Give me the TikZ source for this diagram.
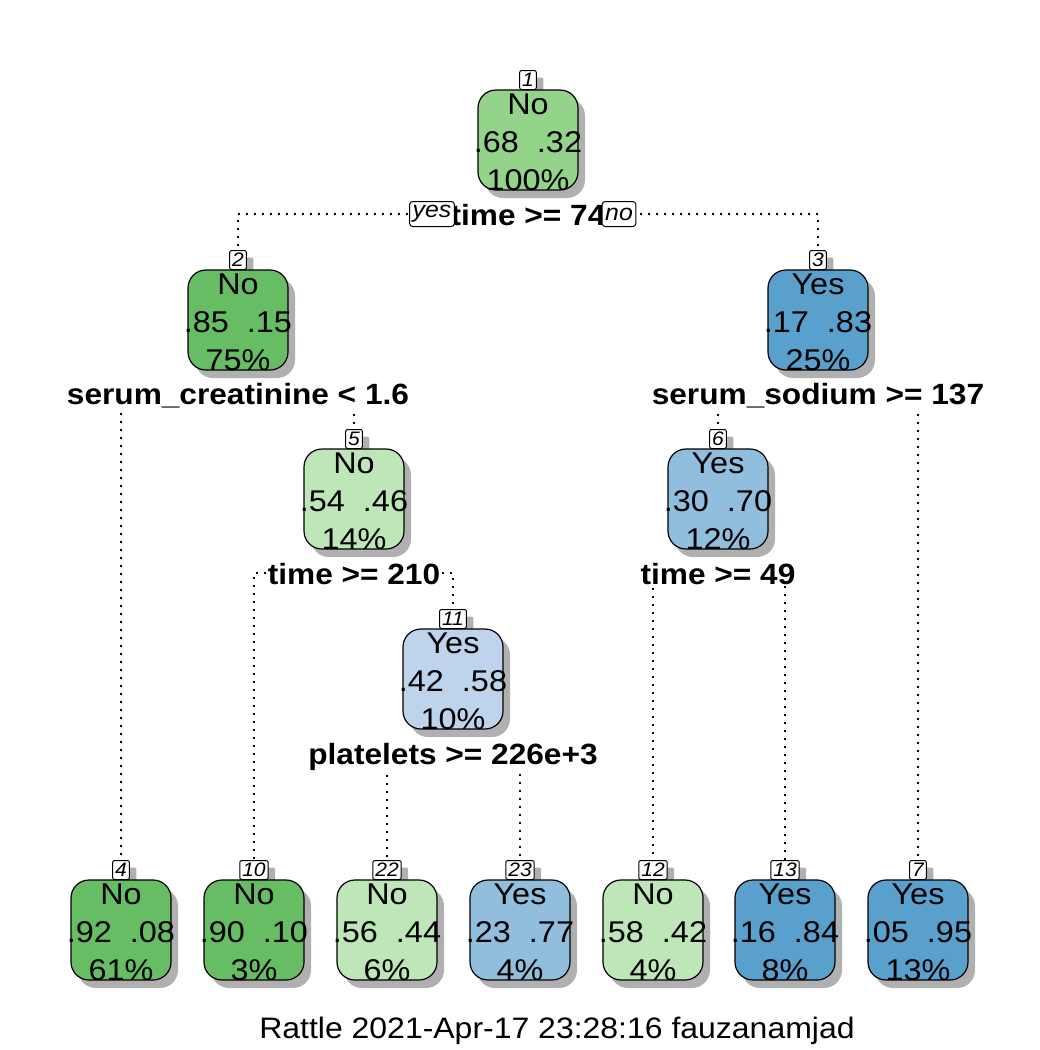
\documentclass[tikz,border=0pt]{standalone}
\usepackage{fontspec}
\setmainfont[FakeStretch=1.08]{Liberation Sans}
\definecolor{gA}{HTML}{66BD63}
\definecolor{gB}{HTML}{94D48A}
\definecolor{gC}{HTML}{BEE6B8}
\definecolor{bA}{HTML}{5AA0CD}
\definecolor{bB}{HTML}{91BEDC}
\definecolor{bC}{HTML}{BDD4EC}
\definecolor{shadowcol}{HTML}{B0B0B0}
\newcommand\boxfont{\fontsize{30}{36}\selectfont}
\newcommand\splitfont{\bfseries\fontsize{29.3}{36}\selectfont}
\newcommand\numfont{\itshape\fontsize{19.5}{20}\selectfont}
\newcommand\ynfont{\itshape\fontsize{23}{24}\selectfont}
\tikzset{
  mainbox/.style={draw=black, line width=1.2pt, rounded corners=18pt, minimum width=100pt, minimum height=100pt, inner sep=0pt},
  boxtxt/.style={anchor=base, font=\boxfont, inner sep=0pt},
  numlab/.style={anchor=south, draw=black, fill=white, line width=1pt, rounded corners=2pt, font=\numfont, inner xsep=2.5pt, inner ysep=0pt, minimum height=19pt},
  splitlab/.style={anchor=base, fill=white, font=\splitfont, inner xsep=1pt, inner ysep=2pt},
  edge/.style={line width=1.8pt, dash pattern=on 1.8pt off 6.2pt},
  yn/.style={draw=black, fill=white, line width=1pt, rounded corners=3pt, font=\ynfont, inner xsep=3pt, inner ysep=0pt, minimum height=25pt},
}
% #1 id, #2 cx, #3 cy, #4 colour, #5 number, #6 class, #7 probs, #8 pct
\newcommand\treebox[8]{%
  \fill[shadowcol, rounded corners=18pt] ({#2-50+7},{#3-50+8}) rectangle ({#2+50+7},{#3+50+8});
  \node[numlab, draw=none, fill=shadowcol, text=shadowcol] at ({#2+7},{#3-50+7}) {#5};
  \node[mainbox, fill=#4] (t#1) at (#2,#3) {};
  \node[boxtxt] (c#1) at (#2,{#3-26}) {#6};
  \node[boxtxt] (p#1) at (#2,{#3+12}) {#7};
  \node[boxtxt] (q#1) at (#2,{#3+50}) {#8};
  \node[numlab] (n#1) at (#2,{#3-50}) {#5};
}
\begin{document}
\begin{tikzpicture}[x=1pt,y=-1pt]
\fill[white] (0,0) rectangle (1040,1050);
\useasboundingbox (0,0) rectangle (1040,1050);
% junctions of the branches
\coordinate (j1) at (528,214);
\coordinate (j2) at (238,394);
\coordinate (j3) at (818,394);
\coordinate (j5) at (354,573);
\coordinate (j6) at (718,573);
\coordinate (j11) at (453,753);
% label anchors (number label tops)
\coordinate (a2) at (238,251);
\coordinate (a3) at (818,251);
\coordinate (a5) at (354,430);
\coordinate (a6) at (718,430);
\coordinate (a11) at (453,610);
\coordinate (a4) at (121,861);
\coordinate (a10) at (254,861);
\coordinate (a22) at (387,861);
\coordinate (a23) at (520,861);
\coordinate (a12) at (653,861);
\coordinate (a13) at (785,861);
\coordinate (a7) at (918,861);
% edges
\draw[edge] (j1) -| (a2);
\draw[edge] (j1) -| (a3);
\draw[edge] (j2) -| (a4);
\draw[edge] (j2) -| (a5);
\draw[edge] (j3) -| (a6);
\draw[edge] (j3) -| (a7);
\draw[edge] (j5) -| (a10);
\draw[edge] (j5) -| (a11);
\draw[edge] (j6) -| (a12);
\draw[edge] (j6) -| (a13);
\draw[edge] (j11) -| (a22);
\draw[edge] (j11) -| (a23);
% split labels
\node[splitlab] (s1) at (528,225) {time >= 74};
\node[splitlab] (s2) at (238,404) {serum\_creatinine < 1.6};
\node[splitlab] (s3) at (818,404) {serum\_sodium >= 137};
\node[splitlab] (s5) at (354,584) {time >= 210};
\node[splitlab] (s6) at (718,584) {time >= 49};
\node[splitlab] (s11) at (453,764) {platelets >= 226e+3};
% nodes
\treebox{1}{528}{140}{gB}{1}{No}{.68\ \ .32}{100\%}
\treebox{2}{238}{320}{gA}{2}{No}{.85\ \ .15}{75\%}
\treebox{3}{818}{320}{bA}{3}{Yes}{.17\ \ .83}{25\%}
\treebox{5}{354}{499}{gC}{5}{No}{.54\ \ .46}{14\%}
\treebox{6}{718}{499}{bB}{6}{Yes}{.30\ \ .70}{12\%}
\treebox{11}{453}{679}{bC}{11}{Yes}{.42\ \ .58}{10\%}
\treebox{4}{121}{930}{gA}{4}{No}{.92\ \ .08}{61\%}
\treebox{10}{254}{930}{gA}{10}{No}{.90\ \ .10}{3\%}
\treebox{22}{387}{930}{gC}{22}{No}{.56\ \ .44}{6\%}
\treebox{23}{520}{930}{bB}{23}{Yes}{.23\ \ .77}{4\%}
\treebox{12}{653}{930}{gC}{12}{No}{.58\ \ .42}{4\%}
\treebox{13}{785}{930}{bA}{13}{Yes}{.16\ \ .84}{8\%}
\treebox{7}{918}{930}{bA}{7}{Yes}{.05\ \ .95}{13\%}
% yes / no
\node[yn] (yes) at (432,214) {yes};
\node[yn] (no) at (619,214) {no};
% footer
\node[anchor=base, font=\fontsize{29.6}{32}\selectfont, inner sep=0pt] (foot) at (557,1038) {Rattle 2021-Apr-17 23:28:16 fauzanamjad};
\end{tikzpicture}
\end{document}
